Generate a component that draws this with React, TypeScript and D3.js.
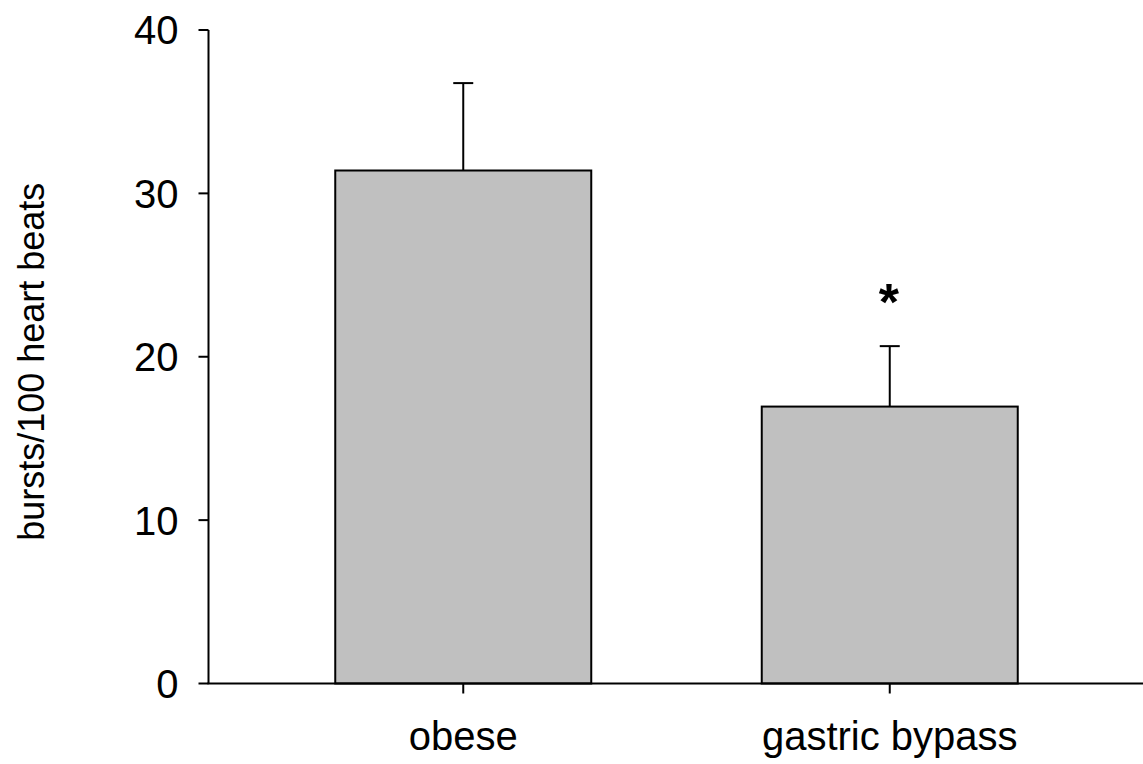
import React from "react";
import * as d3 from "d3";

const categories = ["obese", "gastric bypass"];
const means = [31.4, 16.95];
const errors = [5.35, 3.7];
const significant = [false, true];
const yTicks = [0, 10, 20, 30, 40];

const W = 1143;
const H = 764;
const FONT = "Arial, 'Liberation Sans', Helvetica, sans-serif";

export default function App() {
  const x0 = 208.5;
  const xEnd = 1143;
  const y = d3.scaleLinear().domain([0, 40]).range([683.5, 30]);
  const x = d3.scaleBand().domain(categories).range([250, 1103]).paddingInner(0.4).paddingOuter(0.2);
  const bw = x.bandwidth();

  return (
    <svg width={W} height={H} style={{ position: "absolute", left: 0, top: 0, background: "#fff" }}>
      {categories.map((c, i) => {
        const cx = (x(c) as number) + bw / 2;
        const left = cx - 128;
        const top = y(means[i]);
        const errTop = y(means[i] + errors[i]);
        return (
          <g key={c}>
            <rect x={left} y={top} width={256} height={y(0) - top} fill="#c0c0c0" stroke="#000" strokeWidth={2} />
            <line x1={cx} x2={cx} y1={top} y2={errTop} stroke="#000" strokeWidth={2} />
            <line x1={cx - 10} x2={cx + 10} y1={errTop} y2={errTop} stroke="#000" strokeWidth={2} />
            {significant[i] && (
              <text x={cx - 1} y={errTop - 26} textAnchor="middle" fontFamily={FONT} fontSize={52} fontWeight="bold">*</text>
            )}
            <line x1={cx} x2={cx} y1={y(0)} y2={y(0) + 10} stroke="#000" strokeWidth={2} />
            <text x={cx} y={750} textAnchor="middle" fontFamily={FONT} fontSize={40} fill="#000">{c}</text>
          </g>
        );
      })}
      <line x1={x0} x2={x0} y1={y(40)} y2={y(0)} stroke="#000" strokeWidth={2} />
      <line x1={x0 - 1} x2={xEnd} y1={y(0)} y2={y(0)} stroke="#000" strokeWidth={2} />
      {yTicks.map((t) => (
        <g key={t}>
          <line x1={x0 - 10} x2={x0} y1={y(t)} y2={y(t)} stroke="#000" strokeWidth={2} />
          <text x={x0 - 30} y={y(t)} dy="0.36em" textAnchor="end" fontFamily={FONT} fontSize={40} fill="#000">{t}</text>
        </g>
      ))}
      <text
        transform={`translate(44, ${y(20) + 5}) rotate(-90)`}
        textAnchor="middle"
        fontFamily={FONT}
        fontSize={36}
        fill="#000"
      >
        bursts/100 heart beats
      </text>
    </svg>
  );
}
